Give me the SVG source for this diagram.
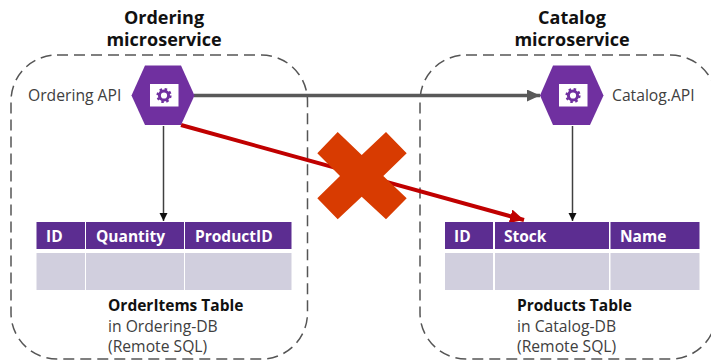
<svg xmlns="http://www.w3.org/2000/svg" width="711" height="364" viewBox="0 0 711 364">
<style>
text{font-family:"Open Sans","Noto Sans","Liberation Sans",sans-serif;fill:#404040;font-size:15.700px}
.t{font-weight:700;fill:#111;font-size:18px;text-anchor:middle}
.b{font-weight:700;fill:#111;font-size:15.500px}
.h{font-weight:700;fill:#fff;font-size:15.500px}
.box{fill:none;stroke:#555;stroke-width:1.500;stroke-dasharray:11 6}
.hd{fill:#5c2d91}.bd{fill:#d1cfde}.hex{fill:#7030a0}
</style>
<defs>
<marker id="g" markerUnits="userSpaceOnUse" markerWidth="14" markerHeight="12" refX="13" refY="6" orient="auto"><path d="M0 0L13 6L0 12z" fill="#595959"/></marker>
<marker id="k" markerUnits="userSpaceOnUse" markerWidth="9" markerHeight="9" refX="8" refY="4" orient="auto"><path d="M0 0L8 4L0 8z" fill="#111"/></marker>
<marker id="r" markerUnits="userSpaceOnUse" markerWidth="16" markerHeight="14" refX="14" refY="7" orient="auto"><path d="M0 0L14 7L0 14z" fill="#c00000"/></marker>
<g id="gear"><circle r="4.600" fill="none" stroke="#7030a0" stroke-width="3"/><circle r="6.400" fill="none" stroke="#7030a0" stroke-width="2.400" stroke-dasharray="2.500 2.500"/></g>
</defs>
<rect class="box" x="11" y="55" width="296.500" height="304" rx="46"/>
<rect class="box" x="420" y="55" width="296.500" height="304" rx="46"/>
<text class="t" y="23.500"><tspan x="164">Ordering</tspan><tspan x="164" dy="22.500">microservice</tspan></text>
<text class="t" y="23.500"><tspan x="572">Catalog</tspan><tspan x="572" dy="22.500">microservice</tspan></text>
<g id="connectors">
<line x1="194" y1="95.500" x2="540" y2="95.500" stroke="#595959" stroke-width="3.500" marker-end="url(#g)"/>
<line x1="163.500" y1="126" x2="163.500" y2="221" stroke="#404040" stroke-width="1.500" marker-end="url(#k)"/>
<line x1="572.500" y1="126" x2="572.500" y2="221" stroke="#404040" stroke-width="1.500" marker-end="url(#k)"/>
<line x1="181" y1="125" x2="524" y2="220" stroke="#c00000" stroke-width="4" marker-end="url(#r)"/>
</g>
<g id="ordering-api">
<path class="hex" d="M145 65.500H181L194.500 95.500L181 125H145L131.500 95.500z"/>
<rect x="150" y="84" width="28.500" height="22.500" fill="#fff"/>
<use href="#gear" x="164" y="95.500"/>
<text x="28" y="101">Ordering API</text>
</g>
<g id="catalog-api">
<path class="hex" d="M553 65.500H590L603.500 95.500L590 125H553L540 95.500z"/>
<rect x="559" y="84" width="28.500" height="22.500" fill="#fff"/>
<use href="#gear" x="573" y="95.500"/>
<text x="612" y="101">Catalog.API</text>
</g>
<g id="orderitems-table">
<rect class="hd" x="36.500" y="222" width="48.500" height="27"/><rect class="hd" x="86" y="222" width="98" height="27"/><rect class="hd" x="185" y="222" width="106.500" height="27"/>
<rect class="bd" x="36.500" y="253" width="48.500" height="37"/><rect class="bd" x="86" y="253" width="98" height="37"/><rect class="bd" x="185" y="253" width="106.500" height="37"/>
<text class="h" x="46" y="242">ID</text><text class="h" x="96" y="242">Quantity</text><text class="h" x="195" y="242">ProductID</text>
<text class="b" x="108" y="311">OrderItems Table</text>
<text x="108" y="331.500">in Ordering-DB</text>
<text x="108" y="351.500">(Remote SQL)</text>
</g>
<g id="products-table">
<rect class="hd" x="445" y="222" width="48" height="27"/><rect class="hd" x="495" y="222" width="114" height="27"/><rect class="hd" x="610.500" y="222" width="89" height="27"/>
<rect class="bd" x="445" y="253" width="48" height="37"/><rect class="bd" x="495" y="253" width="114" height="37"/><rect class="bd" x="610.500" y="253" width="89" height="37"/>
<text class="h" x="454" y="242">ID</text><text class="h" x="504" y="242">Stock</text><text class="h" x="620" y="242">Name</text>
<text class="b" x="517" y="311">Products Table</text>
<text x="517" y="331.500">in Catalog-DB</text>
<text x="517" y="351.500">(Remote SQL)</text>
</g>
<path id="cross" fill="#d83b01" d="M337.700 132L361.700 155L386 132L406.700 153.300L383.300 176L406.700 198.300L386 219.300L361.700 196.700L337.700 219.300L317.300 198.300L340 176L317.300 153.300z"/>
</svg>
